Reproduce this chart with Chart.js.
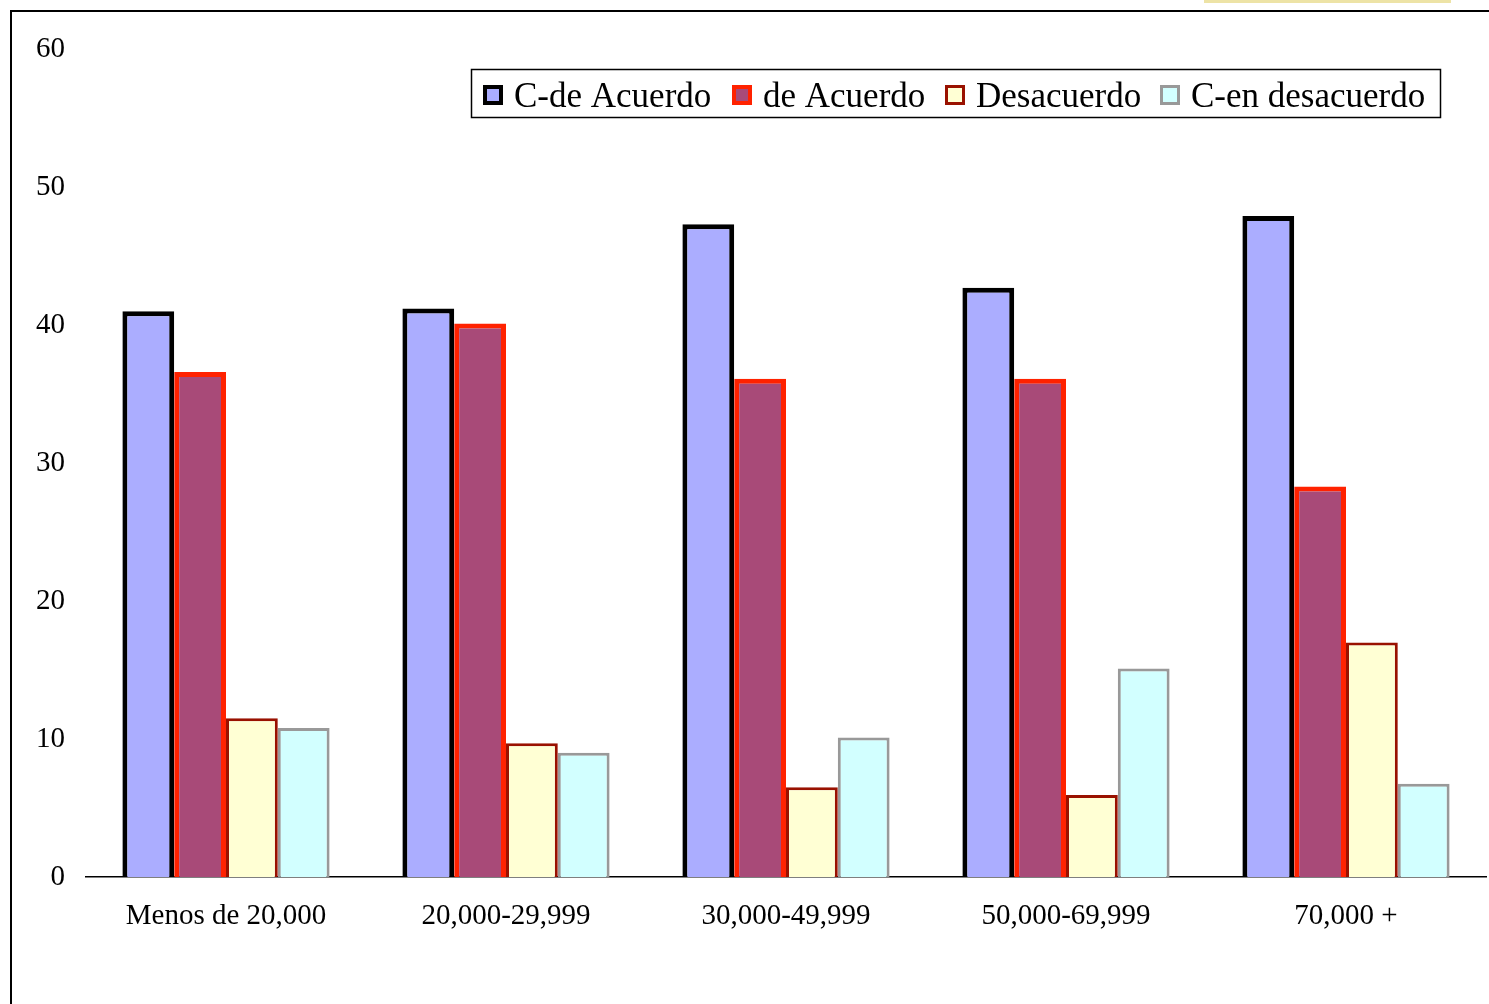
<!DOCTYPE html>
<html>
<head>
<meta charset="utf-8">
<script src="https://cdn.jsdelivr.net/npm/chart.js@4/dist/chart.umd.min.js"></script>
<style>
  html, body { margin: 0; padding: 0; background: #fff; }
  #wrap { position: relative; width: 1489px; height: 1004px; }
</style>
</head>
<body>
<div id="wrap"><canvas id="chart" width="1489" height="1004"></canvas></div>
<script>
const categories = ["Menos de 20,000", "20,000-29,999", "30,000-49,999", "50,000-69,999", "70,000 +"];
const seriesNames = ["C-de Acuerdo", "de Acuerdo", "Desacuerdo", "C-en desacuerdo"];
const cdeAcuerdo = [41.0, 41.2, 47.3, 42.7, 47.9];
const deAcuerdo = [36.6, 40.1, 36.1, 36.1, 28.3];
const desacuerdo = [11.5, 9.7, 6.5, 5.95, 17.0];
const cenDesacuerdo = [10.8, 9.0, 10.1, 15.1, 6.75];
const yTicks = [0, 10, 20, 30, 40, 50, 60];

const fills = ["#abadff", "#a84a78", "#ffffd4", "#d2ffff"];
const strokes = ["#000000", "#ff2200", "#991100", "#999999"];
const strokeWidths = [5, 5, 3, 3];

const serif = "'Liberation Serif', 'Times New Roman', serif";

// frame, small yellow tab and the boxed legend, like the original sheet
const decorations = {
  id: "decorations",
  afterDraw(chart) {
    const ctx = chart.ctx;
    ctx.save();
    ctx.fillStyle = "#ede3a6";
    ctx.fillRect(1204, 0, 247, 3);
    ctx.strokeStyle = "#000";
    ctx.lineWidth = 2;
    ctx.beginPath();
    ctx.moveTo(11, 1004);
    ctx.lineTo(11, 11);
    ctx.lineTo(1489, 11);
    ctx.stroke();

    // legend
    ctx.lineWidth = 1.5;
    ctx.strokeRect(471.5, 69.5, 969, 48);
    const markX = [483, 732, 945, 1160];
    ctx.font = "35px " + serif;
    ctx.textBaseline = "alphabetic";
    chart.data.datasets.forEach((ds, i) => {
      const bw = i < 2 ? 4 : 3;
      ctx.fillStyle = ds.borderColor;
      ctx.fillRect(markX[i], 85, 20, 20);
      ctx.fillStyle = ds.backgroundColor;
      ctx.fillRect(markX[i] + bw, 85 + bw, 20 - 2 * bw, 20 - 2 * bw);
      ctx.fillStyle = "#000";
      ctx.fillText(ds.label, markX[i] + 31, 107);
    });
    ctx.restore();
  }
};

const datasets = [cdeAcuerdo, deAcuerdo, desacuerdo, cenDesacuerdo].map((vals, i) => ({
  label: seriesNames[i],
  data: vals,
  backgroundColor: fills[i],
  borderColor: strokes[i],
  borderWidth: strokeWidths[i],
  borderSkipped: "bottom",
  barPercentage: 1,
  categoryPercentage: 0.74
}));

new Chart(document.getElementById("chart"), {
  type: "bar",
  data: { labels: categories, datasets: datasets },
  plugins: [decorations],
  options: {
    responsive: false,
    animation: false,
    layout: { padding: { left: 0, right: 3, top: 49, bottom: 0 } },
    plugins: {
      legend: { display: false },
      tooltip: { enabled: false }
    },
    scales: {
      x: {
        grid: { display: false, drawTicks: false },
        border: { display: true, color: "#000", width: 1.5 },
        ticks: {
          color: "#000",
          font: { family: serif, size: 29 },
          padding: 22,
          maxRotation: 0
        },
        afterFit: (scale) => { scale.height = 1004 - 877; }
      },
      y: {
        min: 0,
        max: 60,
        afterBuildTicks: (scale) => { scale.ticks = yTicks.map(v => ({ value: v })); },
        grid: { display: false, drawTicks: false },
        border: { display: false },
        ticks: {
          color: "#000",
          font: { family: serif, size: 29 },
          padding: 21
        },
        afterFit: (scale) => { scale.width = 86; }
      }
    }
  }
});
</script>
</body>
</html>
